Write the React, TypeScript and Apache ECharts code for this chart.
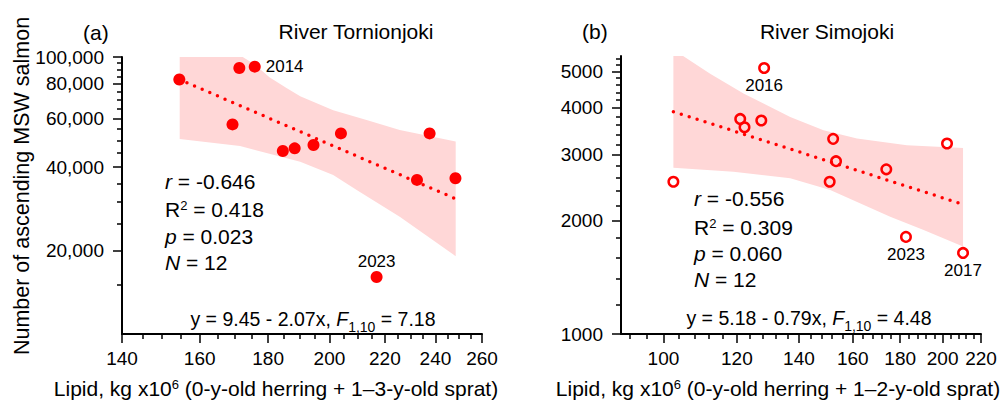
import * as echarts from "echarts";
import { useEffect, useRef } from "react";

const FONT = "Liberation Sans";
const RED = "#ff0000";
const BAND = "#ffd7d7";

// (a) River Tornionjoki: lipid (kg x10^6) vs ascending MSW salmon
const tornLipid = [154.5, 171.3, 175.9, 169.3, 184.6, 188.4, 194.6, 204.0, 237.6, 232.5, 248.4, 216.9];
const tornSalmon = [82900, 91300, 92300, 57100, 45800, 46800, 48100, 53000, 53000, 36000, 36500, 16070];
const tornYear = ["", "", "2014", "", "", "", "", "", "", "", "", "2023"];
const tornFitX = [154.5, 248.4];
const tornFitY = [83000, 30800];
const tornUpperX = [154.6, 172.3, 175.8, 180.4, 185.9, 190.2, 201.3, 213.2, 225.7, 248.5];
const tornUpper = [100000, 100000, 94100, 84500, 77200, 72200, 64300, 59200, 54500, 49500];
const tornLowerX = [154.6, 171.5, 190.2, 201.3, 209.6, 225.7, 248.5];
const tornLower = [50600, 47700, 41900, 37500, 33100, 26500, 19100];
const tornXTicks = [140, 160, 180, 200, 220, 240, 260];
const tornYTicks = [20000, 40000, 60000, 80000, 100000];

// (b) River Simojoki
const simoLipid = [102.5, 121.0, 122.3, 127.5, 128.4, 152.4, 153.5, 151.1, 173.9, 202.2, 182.6, 210.4];
const simoSalmon = [2543, 3739, 3553, 3702, 5109, 3309, 2886, 2543, 2745, 3217, 1814, 1644];
const simoYear = ["", "", "", "", "2016", "", "", "", "", "", "2023", "2017"];
const simoFitX = [102.5, 210.4];
const simoFitY = [3910, 2215];
const simoUpperX = [102.5, 105.0, 112.3, 122.0, 137.0, 148.8, 161.7, 183.0, 210.4];
const simoUpper = [5500, 5500, 4930, 4368, 3785, 3489, 3317, 3183, 3131];
const simoLowerX = [102.5, 119.0, 137.0, 151.3, 175.6, 190.8, 210.4];
const simoLower = [2770, 2704, 2597, 2417, 2053, 1893, 1709];
const simoXTicks = [100, 120, 140, 160, 180, 200, 220];
const simoYTicks = [1000, 2000, 3000, 4000, 5000];

// minor tick values between the labelled ones
function steps(from: number, to: number, step: number, skip: number[]) {
	const out: number[] = [];
	for (let v = from; v <= to; v += step) if (!skip.includes(v)) out.push(v);
	return out;
}

const tickLine = { color: "#000", width: 1.5 };
const labelFont = { fontFamily: FONT, fontSize: 19, color: "#000" };

function axisPair(dim: "x" | "y", grid: number, min: number, max: number, major: number[], minor: number[], fmt: (v: number) => string) {
	const position = dim === "x" ? "bottom" : "left";
	return [
		{
			type: "log",
			gridIndex: grid,
			position,
			min,
			max,
			axisLine: { show: true, lineStyle: { color: "#000", width: 2 } },
			axisTick: { show: true, customValues: major, length: 9, lineStyle: tickLine },
			axisLabel: { show: true, customValues: major, margin: dim === "x" ? 15 : 18, ...labelFont, formatter: (v: number) => fmt(v) },
			splitLine: { show: false },
			minorTick: { show: false },
		},
		{
			type: "log",
			gridIndex: grid,
			position,
			min,
			max,
			axisLine: { show: false },
			axisTick: { show: true, customValues: minor, length: 5, lineStyle: tickLine },
			axisLabel: { show: false },
			splitLine: { show: false },
		},
	];
}

function band(xi: number, yi: number, ux: number[], uy: number[], lx: number[], ly: number[]) {
	return {
		type: "custom",
		xAxisIndex: xi,
		yAxisIndex: yi,
		z: 1,
		silent: true,
		data: [[ux[0], uy[0]]],
		renderItem: (_p: any, api: any) => {
			const top = ux.map((x, i) => api.coord([x, uy[i]]));
			const bottom = lx.map((x, i) => api.coord([x, ly[i]])).reverse();
			return { type: "polygon", shape: { points: top.concat(bottom) }, style: { fill: BAND } };
		},
	};
}

function fit(xi: number, yi: number, xs: number[], ys: number[]) {
	return {
		type: "line",
		xAxisIndex: xi,
		yAxisIndex: yi,
		z: 2,
		symbol: "none",
		silent: true,
		data: xs.map((x, i) => [x, ys[i]]),
		lineStyle: { color: RED, width: 3.5, type: [0, 8.3], cap: "round" },
	};
}

const text = (x: number, y: number, t: string, size: number, align = "left", extra: any = {}) => ({
	type: "text",
	x,
	y,
	silent: true,
	style: {
		text: t,
		fontFamily: FONT,
		fontSize: size,
		fill: "#000",
		align,
		verticalAlign: "middle",
		rich: {
			i: { fontFamily: FONT, fontSize: size, fontStyle: "italic", fill: "#000" },
			sup: { fontFamily: FONT, fontSize: Math.round(size * 0.62), verticalAlign: "top", fill: "#000" },
			sub: { fontFamily: FONT, fontSize: Math.round(size * 0.7), verticalAlign: "bottom", lineHeight: 2, fill: "#000" },
		},
		...extra,
	},
});

const thousands = (v: number) => Math.round(v).toLocaleString("en-US");
const plain = (v: number) => String(Math.round(v));

const yearLabel = { fontFamily: FONT, fontSize: 17, color: "#000" };

function buildOption() {
	return {
		animation: false,
		grid: [
			{ left: 122, top: 57, width: 360, height: 277 },
			{ left: 621, top: 56, width: 360, height: 278 },
		],
		xAxis: [
			...axisPair("x", 0, 140, 260, tornXTicks, steps(140, 260, 5, tornXTicks), plain),
			...axisPair("x", 1, 90, 220, simoXTicks, steps(92, 220, 4, simoXTicks), plain),
		],
		yAxis: [
			...axisPair("y", 0, 10000, 100000, tornYTicks, steps(15000, 100000, 5000, tornYTicks), thousands),
			...axisPair("y", 1, 1000, 5500, simoYTicks, steps(1200, 5400, 200, simoYTicks), plain),
		],
		series: [
			band(0, 0, tornUpperX, tornUpper, tornLowerX, tornLower),
			fit(0, 0, tornFitX, tornFitY),
			{
				type: "scatter",
				xAxisIndex: 0,
				yAxisIndex: 0,
				z: 3,
				symbolSize: 12,
				itemStyle: { color: RED, opacity: 1 },
				label: { show: false, ...yearLabel },
				data: tornLipid.map((x, i) => ({
					value: [x, tornSalmon[i]],
					label: tornYear[i]
						? {
								show: true,
								...yearLabel,
								formatter: tornYear[i],
								position: tornYear[i] === "2014" ? "right" : "top",
								distance: tornYear[i] === "2014" ? 5 : 1,
							}
						: undefined,
				})),
			},
			band(2, 2, simoUpperX, simoUpper, simoLowerX, simoLower),
			fit(2, 2, simoFitX, simoFitY),
			{
				type: "scatter",
				xAxisIndex: 2,
				yAxisIndex: 2,
				z: 3,
				symbol: "circle",
				symbolSize: 9.5,
				itemStyle: { color: "rgba(0,0,0,0)", borderColor: RED, borderWidth: 2.5, opacity: 1 },
				label: { show: false, ...yearLabel },
				data: simoLipid.map((x, i) => ({
					value: [x, simoSalmon[i]],
					label: simoYear[i] ? { show: true, ...yearLabel, formatter: simoYear[i], position: "bottom", distance: 3 } : undefined,
				})),
			},
		],
		graphic: [
			text(83, 32, "(a)", 21),
			text(356, 31, "River Tornionjoki", 21, "center"),
			text(582, 31, "(b)", 21),
			text(827, 31, "River Simojoki", 21, "center"),
			{
				type: "text",
				x: 22,
				y: 186,
				rotation: Math.PI / 2,
				silent: true,
				style: { text: "Number of ascending MSW salmon", fontFamily: FONT, fontSize: 21.5, fill: "#000", align: "center", verticalAlign: "middle" },
			},
			text(165, 181, "{i|r} = -0.646", 21),
			text(165, 209, "R{sup|2} = 0.418", 21),
			text(165, 236, "{i|p} = 0.023", 21),
			text(165, 262, "{i|N} = 12", 21),
			text(313, 319, "y = 9.45 - 2.07x, {i|F}{sub|1,10} = 7.18", 19.5, "center", { lineHeight: 29 }),
			text(694, 198, "{i|r} = -0.556", 21),
			text(694, 227, "R{sup|2} = 0.309", 21),
			text(694, 253, "{i|p} = 0.060", 21),
			text(694, 279, "{i|N} = 12", 21),
			text(809, 318, "y = 5.18 - 0.79x, {i|F}{sub|1,10} = 4.48", 19.5, "center", { lineHeight: 29 }),
			text(276, 388, "Lipid, kg x10{sup|6} (0-y-old herring + 1\u20133-y-old sprat)", 21, "center"),
			text(778, 388, "Lipid, kg x10{sup|6} (0-y-old herring + 1\u20132-y-old sprat)", 21, "center"),
		],
	};
}

export default function App() {
	const ref = useRef<HTMLDivElement>(null);
	useEffect(() => {
		if (!ref.current) return;
		const chart = echarts.init(ref.current, null, { renderer: "svg" });
		chart.setOption(buildOption() as any);
		return () => chart.dispose();
	}, []);
	return <div ref={ref} style={{ position: "absolute", left: 0, top: 0, width: 1006, height: 401 }} />;
}
